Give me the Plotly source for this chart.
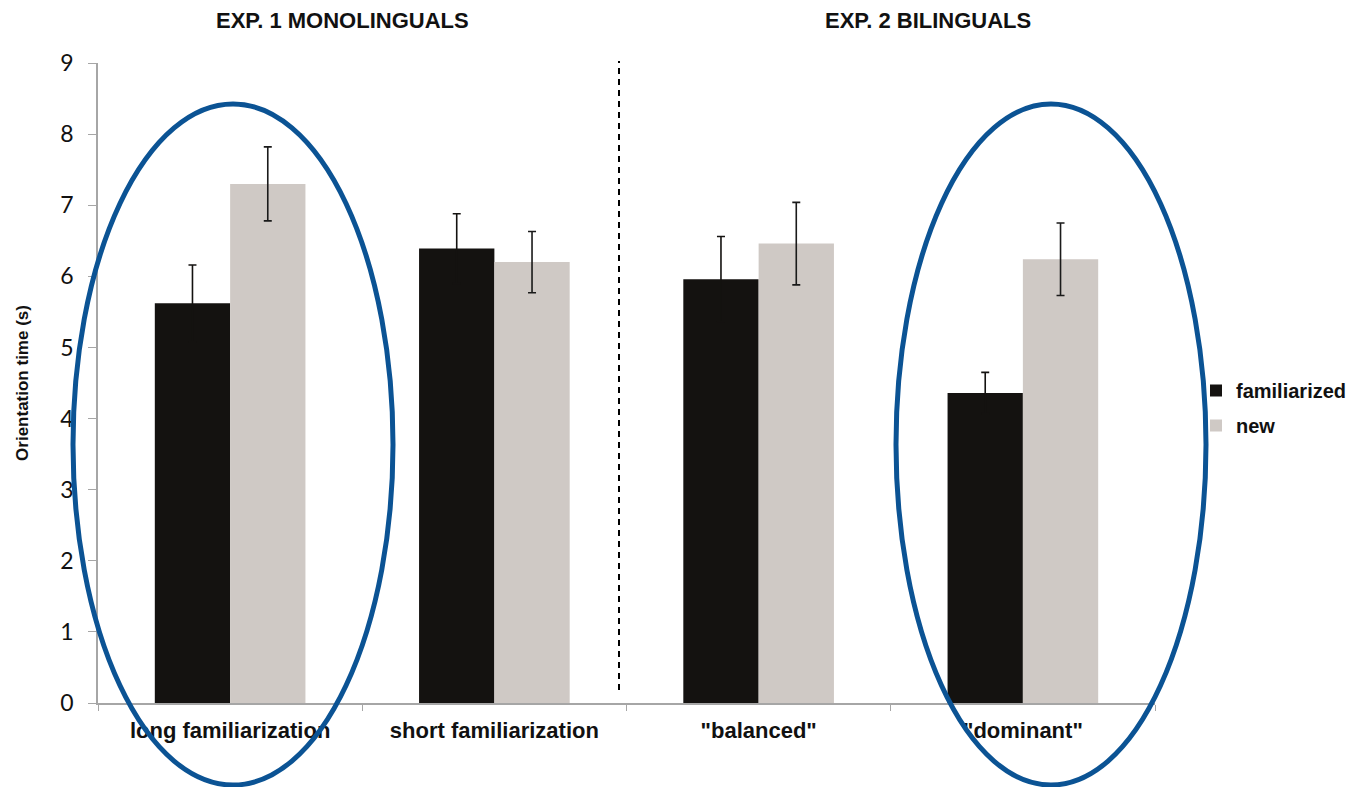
import plotly.graph_objects as go

categories = ["long familiarization", "short familiarization", '"balanced"', '"dominant"']
familiarized = [5.62, 6.39, 5.96, 4.36]
familiarized_err = [0.54, 0.49, 0.60, 0.29]
new = [7.30, 6.20, 6.46, 6.24]
new_err = [0.52, 0.43, 0.58, 0.51]
group_titles = ["EXP. 1 MONOLINGUALS", "EXP. 2 BILINGUALS"]
y_ticks = list(range(0, 10))

W, H = 1352, 787
L, R, T, B = 98, 197, 63, 84
pw, ph = W - L - R, H - T - B

def px(x):
    return (x - L) / pw

def py(y):
    return (H - B - y) / ph

BAR_DARK = "#141210"
BAR_LIGHT = "#cfc9c5"

fig = go.Figure()
fig.add_trace(go.Bar(
    x=categories, y=familiarized, name="<b>familiarized</b>",
    marker=dict(color=BAR_DARK, line=dict(width=0)),
    error_y=dict(type="data", array=familiarized_err, color=BAR_DARK, thickness=1.6, width=4),
    legendgroup="a",
))
fig.add_trace(go.Bar(
    x=categories, y=new, name="<b>new</b>",
    marker=dict(color=BAR_LIGHT, line=dict(width=0)),
    error_y=dict(type="data", array=new_err, color="#1a1a1a", thickness=1.6, width=4),
    legendgroup="b",
))

blue = "#0b5394"
shapes = [
    dict(type="circle", xref="paper", yref="paper",
         x0=px(73), x1=px(393), y0=py(785), y1=py(104),
         line=dict(color=blue, width=5), layer="above"),
    dict(type="circle", xref="paper", yref="paper",
         x0=px(896), x1=px(1206), y0=py(785), y1=py(104),
         line=dict(color=blue, width=5), layer="above"),
    dict(type="line", xref="paper", yref="paper",
         x0=px(619), x1=px(619), y0=py(690), y1=py(61),
         line=dict(color="black", width=2, dash="6px,5px")),
]

hfont = dict(family="Liberation Sans, Arial", size=22, color="#111")
annotations = [
    dict(text="<b>" + group_titles[0] + "</b>", xref="paper", yref="paper",
         x=px(342), y=py(20), showarrow=False, xanchor="center", yanchor="middle", font=hfont),
    dict(text="<b>" + group_titles[1] + "</b>", xref="paper", yref="paper",
         x=px(928), y=py(20), showarrow=False, xanchor="center", yanchor="middle", font=hfont),
]

fig.update_layout(
    width=W, height=H,
    margin=dict(l=L, r=R, t=T, b=B, autoexpand=False),
    paper_bgcolor="white", plot_bgcolor="white",
    barmode="group", bargap=0.43, bargroupgap=0,
    showlegend=True,
    legend=dict(x=px(1196), y=py(371), xanchor="left", yanchor="top",
                font=dict(family="Liberation Sans", size=20, color="#111"),
                tracegroupgap=6, traceorder="grouped",
                itemwidth=30, bgcolor="rgba(0,0,0,0)"),
    shapes=shapes, annotations=annotations,
    xaxis=dict(
        type="category", showline=True, linecolor="#a6a6a6", linewidth=1.5,
        ticks="outside", tickson="boundaries", ticklen=6, tickcolor="#a6a6a6",
        tickfont=dict(family="Liberation Sans", size=22, color="#111"),
        tickprefix="<b>", ticksuffix="</b>",
        ticklabelstandoff=7,
        showgrid=False, zeroline=False,
    ),
    yaxis=dict(
        range=[0, 9], tickvals=y_ticks, showline=True, linecolor="#a6a6a6", linewidth=1.5,
        ticks="outside", ticklen=8, tickcolor="#a6a6a6",
        tickfont=dict(family="Lato, Open Sans", size=23, color="#111"),
        ticklabelstandoff=10,
        showgrid=False, zeroline=False,
        title=dict(text="<b>Orientation time (s)</b>", standoff=27,
                   font=dict(family="Liberation Sans", size=17, color="#111")),
    ),
)

fig.write_html("out.html", config={"displayModeBar": False},
               post_script="document.body.style.margin='0';document.body.style.overflow='hidden';")
